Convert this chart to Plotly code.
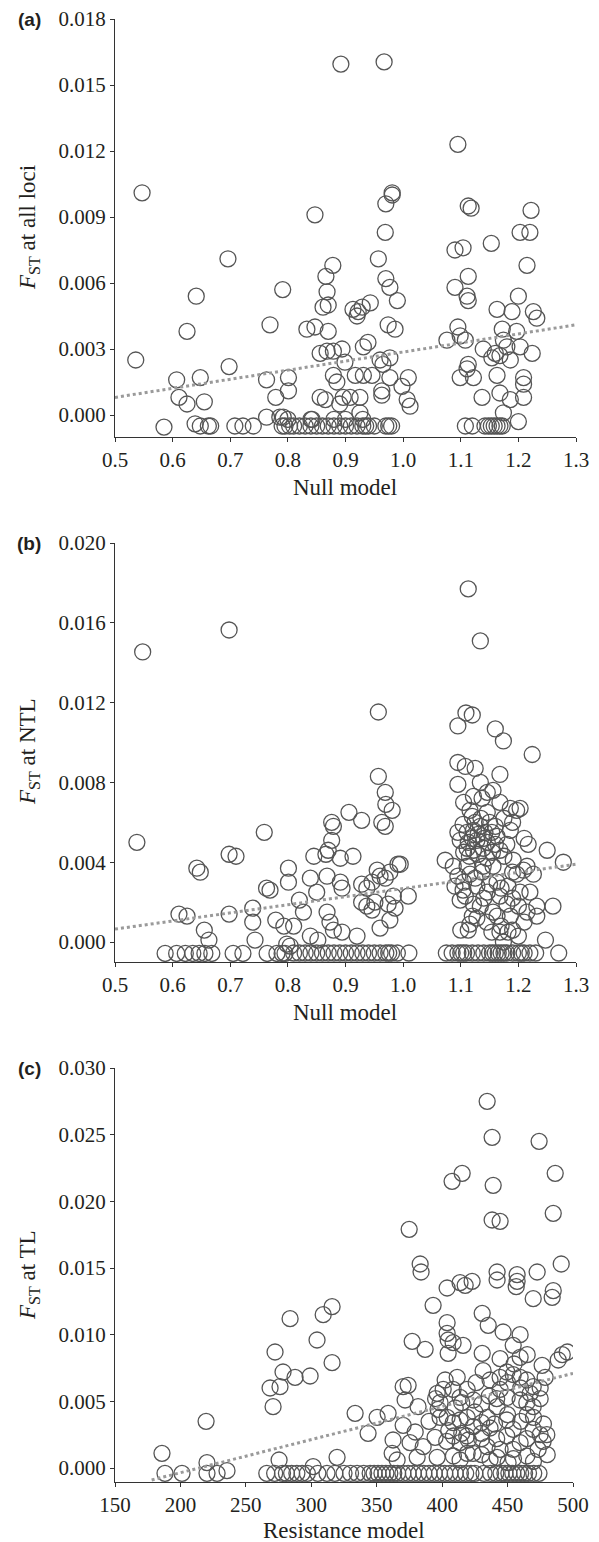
import plotly.graph_objects as go

# ---------------- Panel (a): FST at all loci vs Null model ----------------
xa = [0.547,0.536,0.585,0.607,0.611,0.625,0.625,0.641,0.648,0.655,0.639,0.648,0.662,0.666,
      0.696,0.698,0.708,0.722,0.740,0.769,0.791,0.763,0.779,0.801,0.801,0.763,0.786,0.792,
      0.790,0.795,0.803,0.892,0.967,1.095,0.981,0.981,0.970,0.847,0.969,1.113,1.118,1.222,
      1.203,1.220,1.153,1.104,1.090,0.878,0.866,0.868,0.861,0.870,0.833,0.847,0.870,0.856,
      0.868,0.879,0.894,0.899,0.879,0.885,0.856,0.865,0.896,0.908,0.890,0.925,0.925,0.913,
      0.920,0.929,0.943,0.922,0.931,0.939,0.917,0.931,0.946,0.960,0.965,0.977,0.977,0.963,
      0.963,0.957,0.970,0.977,0.990,0.974,0.986,1.009,0.998,1.007,1.012,0.842,1.113,1.090,
      1.111,1.113,1.076,1.095,1.099,1.108,1.113,1.111,1.099,1.122,1.108,1.120,1.215,1.200,
      1.163,1.189,1.226,1.232,1.172,1.197,1.139,1.174,1.180,1.160,1.168,1.154,1.186,1.203,
      1.224,1.163,1.209,1.209,1.137,1.168,1.186,1.209,1.174,1.200,
      1.142,1.148,1.153,1.158,1.163,1.168,1.172,
      0.810,0.820,0.830,0.840,0.850,0.860,0.870,0.880,0.890,0.900,0.910,0.920,0.930,0.935,
      0.940,0.950,0.970,0.975,0.980,
      0.800,0.840,0.880,0.900,0.930]
ya = [0.0101,0.0025,-0.00055,0.0016,0.0008,0.0005,0.0038,0.0054,0.0017,0.0006,-0.0004,-0.0005,-0.0005,-0.0005,
      0.0071,0.0022,-0.0005,-0.0005,-0.0005,0.0041,0.0057,0.0016,0.0008,0.0017,0.0011,-0.0001,-0.0001,-0.0001,
      -0.0005,-0.0005,-0.0005,0.01595,0.01605,0.0123,0.0101,0.0100,0.0096,0.0091,0.0083,0.0095,0.0094,0.0093,
      0.0083,0.0083,0.0078,0.0076,0.0075,0.0068,0.0063,0.0056,0.0049,0.0050,0.0039,0.0040,0.0038,0.0028,
      0.0029,0.0029,0.0030,0.0024,0.0018,0.0015,0.0008,0.0007,0.0008,0.0008,0.0005,0.0008,0.0001,0.0048,
      0.0045,0.0049,0.0051,0.0047,0.0031,0.0033,0.0018,0.0018,0.0018,0.0025,0.0023,0.0026,0.0017,0.0011,
      0.0009,0.0071,0.0062,0.0058,0.0052,0.0041,0.0039,0.0017,0.0013,0.0007,0.0004,-0.0002,0.0063,0.0058,
      0.0054,0.0052,0.0034,0.0040,0.0036,0.0034,0.0023,0.0021,0.0017,0.0017,-0.0005,-0.0005,0.0068,0.0054,
      0.0048,0.0047,0.0047,0.0044,0.0039,0.0038,0.0030,0.0034,0.0031,0.0028,0.0027,0.0026,0.0025,0.0031,
      0.0028,0.0018,0.0017,0.0014,0.0008,0.0010,0.0007,0.0008,0.0001,-0.0003,
      -0.0005,-0.0005,-0.0005,-0.0005,-0.0005,-0.0005,-0.0005,
      -0.0005,-0.0005,-0.0005,-0.0005,-0.0005,-0.0005,-0.0005,-0.0005,-0.0005,-0.0005,-0.0005,-0.0005,-0.0005,-0.0005,
      -0.0005,-0.0005,-0.0005,-0.0005,-0.0005,
      -0.0002,-0.0002,-0.0002,-0.0002,-0.0002]
trend_xa = [0.5, 1.3]
trend_ya = [0.0008, 0.0041]

# ---------------- Panel (b): FST at NTL vs Null model ----------------
xb = [0.548,0.698,1.113,1.134,0.957,1.109,1.120,1.095,1.160,1.174,1.224,
      0.538,0.759,0.698,0.710,0.642,0.648,0.763,0.769,0.801,0.801,0.611,0.625,0.698,0.739,
      0.739,0.743,0.779,0.793,0.655,0.663,0.798,0.804,
      0.587,0.607,0.622,0.635,0.646,0.656,0.668,0.705,0.722,0.764,0.781,0.790,0.795,
      0.957,0.969,0.970,0.981,0.963,0.969,0.906,0.928,0.876,0.879,0.876,0.870,0.866,0.891,
      0.913,0.839,0.868,0.891,0.894,0.827,0.868,0.873,0.879,0.839,0.852,0.894,0.920,0.928,
      0.937,0.946,0.955,0.960,0.969,0.977,0.991,0.995,0.928,0.937,0.946,0.951,0.974,0.983,
      0.986,1.009,0.960,0.977,0.845,0.850,0.820,0.810,
      0.81,0.82,0.83,0.84,0.85,0.86,0.87,0.88,0.89,0.90,0.91,0.92,0.93,0.94,0.95,0.96,0.97,
      0.975,0.98,0.99,1.01,
      1.095,1.108,1.125,1.168,1.095,1.134,1.146,1.156,1.122,1.137,1.168,1.186,1.197,1.203,
      1.116,1.146,1.104,1.186,1.095,1.111,1.122,1.134,1.142,1.154,1.163,1.099,1.113,1.128,
      1.146,1.160,1.111,1.122,1.139,1.168,1.180,1.217,1.250,1.073,1.087,1.111,1.139,1.156,
      1.191,1.215,1.278,1.095,1.116,1.137,1.163,1.197,1.209,1.226,1.090,1.104,1.108,1.128,
      1.146,1.168,1.182,1.203,1.220,1.099,1.122,1.134,1.156,1.180,1.200,1.232,1.260,1.116,
      1.113,1.128,1.163,1.186,1.215,1.232,1.154,1.168,1.182,1.200,1.247,1.174,
      1.125,1.135,1.150,1.130,1.120,1.140,
      1.105,1.115,1.130,1.145,1.155,1.175,1.190,1.105,1.125,1.150,1.170,1.190,1.140,1.120,
      1.145,1.170,1.190,1.210,1.100,1.175,1.160,1.190,1.210,1.105,1.120,
      1.075,1.085,1.095,1.100,1.105,1.110,1.120,1.130,1.140,1.150,1.155,1.160,1.165,1.170,
      1.175,1.180,1.190,1.200,1.205,1.210,1.220,1.230,1.270]
yb = [0.01454,0.01564,0.0177,0.01509,0.01153,0.01148,0.01138,0.01083,0.01068,0.01008,0.0094,
      0.0050,0.0055,0.0044,0.0043,0.0037,0.0035,0.0027,0.0026,0.0037,0.0030,0.0014,0.0013,0.0014,0.0017,
      0.0010,0.0001,0.0011,0.0008,0.0006,0.0001,-0.0001,-0.0002,
      -0.00057,-0.00057,-0.00057,-0.00057,-0.00057,-0.00057,-0.00057,-0.00057,-0.00057,-0.00057,-0.00057,-0.00057,-0.00057,
      0.0083,0.0075,0.0069,0.0066,0.0060,0.0058,0.0065,0.0061,0.0060,0.0058,0.0051,0.0046,0.0044,0.0042,
      0.0043,0.0032,0.0033,0.0030,0.0027,0.0015,0.0015,0.0010,0.0006,0.0003,0.0001,0.0005,0.0003,0.0029,
      0.0027,0.0030,0.0036,0.0033,0.0032,0.0035,0.0039,0.0039,0.0020,0.0018,0.0016,0.0020,0.0019,0.0023,
      0.0017,0.0023,0.0007,0.0011,0.0043,0.0025,0.0021,0.0008,
      -0.00055,-0.00055,-0.00055,-0.00055,-0.00055,-0.00055,-0.00055,-0.00055,-0.00055,-0.00055,-0.00055,-0.00055,-0.00055,-0.00055,-0.00055,-0.00055,-0.00055,
      -0.00055,-0.00055,-0.00055,-0.00055,
      0.0090,0.0088,0.0087,0.0084,0.0079,0.0080,0.0075,0.0076,0.0073,0.0072,0.0070,0.0067,0.0066,0.0067,
      0.0066,0.0065,0.0059,0.0056,0.0055,0.0055,0.0056,0.0058,0.0055,0.0055,0.0053,0.0051,0.0050,0.0051,
      0.0050,0.0049,0.0047,0.0046,0.0047,0.0046,0.0049,0.0049,0.0046,0.0041,0.0038,0.0038,0.0038,0.0038,
      0.0041,0.0038,0.0040,0.0033,0.0034,0.0035,0.0030,0.0034,0.0036,0.0034,0.0028,0.0026,0.0023,0.0028,
      0.0025,0.0023,0.0028,0.0025,0.0025,0.0021,0.0019,0.0018,0.0015,0.0019,0.0018,0.0018,0.0018,0.0009,
      0.0006,0.0012,0.0013,0.0013,0.0015,0.0013,0.0005,0.0005,0.0005,0.0003,0.0001,0.0000,
      0.0060,0.0062,0.0060,0.0054,0.0052,0.0052,
      0.0045,0.0043,0.0044,0.0042,0.0045,0.0043,0.0035,0.0030,0.0032,0.0029,0.0027,0.0022,0.0022,0.0013,
      0.0010,0.0008,0.0006,0.0010,0.0006,0.0062,0.0058,0.0060,0.0052,0.0070,0.0063,
      -0.00055,-0.00055,-0.00055,-0.00055,-0.00055,-0.00055,-0.00055,-0.00055,-0.00055,-0.00055,-0.00055,-0.00055,-0.00055,-0.00055,
      -0.00055,-0.00055,-0.00055,-0.00055,-0.00055,-0.00055,-0.00055,-0.00055,-0.00055]
trend_xb = [0.5, 1.3]
trend_yb = [0.00065, 0.0039]

# ---------------- Panel (c): FST at TL vs Resistance model ----------------
xc = [434.4,438.2,474.1,415.3,407.6,439.0,486.4,438.2,444.3,484.9,374.8,383.2,383.9,442.0,
      442.0,457.3,457.3,456.6,472.6,491.0,403.8,413.7,422.9,417.6,484.9,469.6,484.1,
      283.8,272.3,278.4,287.6,268.5,276.1,270.8,219.6,185.9,188.2,201.2,220.3,220.3,228.0,
      235.6,275.4,315.9,309.1,304.4,315.9,299.1,393.1,377.1,387.0,403.8,403.8,404.6,408.4,
      416.0,404.6,430.6,435.2,446.6,459.6,430.6,444.3,454.3,459.6,476.4,488.7,495.6,491.8,
      431.3,444.3,454.3,459.6,469.6,474.9,370.2,374.0,371.7,402.3,411.5,419.1,396.2,400.8,
      408.4,333.5,350.3,358.7,381.6,343.4,370.2,379.4,394.6,396.9,403.8,408.4,419.1,423.7,
      434.4,442.0,444.3,449.7,459.6,467.3,469.6,454.3,459.6,454.3,469.6,477.2,473.4,480.3,
      362.5,375.5,385.5,361.8,365.6,380.9,396.2,413.7,419.1,423.7,434.4,442.0,444.3,450.4,
      319.7,301.4,
      410,415,425,430,440,450,460,465,415,405,420,390,395,460,455,465,450,436,426,
      436.6,449.4,464.7,478.7,398.4,413.7,423.9,430.2,441.7,464.7,474.9,
      413.7,430.2,436.6,449.4,469.8,477.4,398.4,
      403.5,408.6,418.8,430.2,441.7,449.4,464.7,474.9,480.0,
      408.6,413.7,430.2,436.6,454.5,464.7,469.8,
      266,272,278,281,285,289,293,297,305,312,318,325,330,335,340,345,348,351,354,357,360,
      363,366,370,374,378,382,386,390,394,398,402,406,410,414,418,422,425,
      432,437,441,445,448,451,454,457,460,463,466,470,474]
yc = [0.0275,0.0248,0.0245,0.0221,0.0215,0.0212,0.0221,0.0186,0.0185,0.0191,0.0179,0.0153,0.0147,0.0147,
      0.0141,0.0145,0.0140,0.0136,0.0147,0.0153,0.0135,0.0139,0.0140,0.0137,0.0133,0.0127,0.0128,
      0.0112,0.0087,0.0072,0.0068,0.0060,0.0061,0.0046,0.0035,0.0011,-0.0004,-0.0004,0.0004,-0.0004,-0.0004,
      -0.0002,0.0006,0.0121,0.0115,0.0096,0.0079,0.0069,0.0122,0.0095,0.0089,0.0109,0.0101,0.0096,0.0094,
      0.0092,0.0086,0.0116,0.0107,0.0102,0.0100,0.0086,0.0082,0.0092,0.0083,0.0077,0.0081,0.0087,0.0085,
      0.0073,0.0068,0.0070,0.0068,0.0061,0.0060,0.0061,0.0062,0.0051,0.0066,0.0068,0.0059,0.0056,0.0059,
      0.0059,0.0041,0.0038,0.0041,0.0046,0.0026,0.0032,0.0027,0.0023,0.0044,0.0038,0.0034,0.0038,0.0031,
      0.0038,0.0046,0.0059,0.0053,0.0051,0.0056,0.0046,0.0029,0.0019,0.0014,0.0029,0.0020,0.0014,0.0010,
      0.0021,0.0019,0.0016,0.0011,0.0006,0.0008,0.0008,0.0019,0.0011,0.0011,0.0016,0.0008,0.0014,0.0004,
      0.0008,0.0001,
      0.0045,0.0049,0.0042,0.0026,0.0033,0.0040,0.0035,0.0040,0.0026,0.0028,0.0021,0.0035,0.0052,0.0060,0.0078,0.0085,0.0064,0.0054,0.0064,
      0.0066,0.0072,0.0066,0.0068,0.0049,0.0053,0.0051,0.0048,0.0052,0.0049,0.0052,
      0.0036,0.0034,0.0030,0.0036,0.0038,0.0033,0.0038,
      0.0020,0.0024,0.0024,0.0022,0.0022,0.0024,0.0022,0.0025,0.0025,
      0.0009,0.0006,0.0010,0.0006,0.0007,0.0009,0.0005,
      -0.0004,-0.0004,-0.0004,-0.0004,-0.0004,-0.0004,-0.0004,-0.0004,-0.0004,-0.0004,-0.0004,-0.0004,-0.0004,-0.0004,-0.0004,-0.0004,-0.0004,-0.0004,-0.0004,-0.0004,-0.0004,
      -0.0004,-0.0004,-0.0004,-0.0004,-0.0004,-0.0004,-0.0004,-0.0004,-0.0004,-0.0004,-0.0004,-0.0004,-0.0004,-0.0004,-0.0004,-0.0004,-0.0004,
      -0.0004,-0.0004,-0.0004,-0.0004,-0.0004,-0.0004,-0.0004,-0.0004,-0.0004,-0.0004,-0.0004,-0.0004,-0.0004]
trend_xc = [178, 500]
trend_yc = [-0.0009, 0.0071]

# ---------------- Axis settings ----------------
xticks_ab = [0.5, 0.6, 0.7, 0.8, 0.9, 1.0, 1.1, 1.2, 1.3]
yticks_a = [0.000, 0.003, 0.006, 0.009, 0.012, 0.015, 0.018]
yticks_b = [0.000, 0.004, 0.008, 0.012, 0.016, 0.020]
xticks_c = [150, 200, 250, 300, 350, 400, 450, 500]
yticks_c = [0.000, 0.005, 0.010, 0.015, 0.020, 0.025, 0.030]

W, H = 599, 1542
SERIF = "Liberation Serif, Times New Roman, serif"
TXT = "#231f20"
MK = "#555555"

fig = go.Figure()

panels = [
    (xa, ya, trend_xa, trend_ya, "x", "y"),
    (xb, yb, trend_xb, trend_yb, "x2", "y2"),
    (xc, yc, trend_xc, trend_yc, "x3", "y3"),
]
for px, py, tx, ty, xr, yr in panels:
    fig.add_trace(go.Scatter(x=px, y=py, mode="markers", xaxis=xr, yaxis=yr,
                             marker=dict(symbol="circle-open", size=16, color=MK,
                                         line=dict(width=1.3, color=MK)),
                             showlegend=False, hoverinfo="skip"))
    fig.add_trace(go.Scatter(x=tx, y=ty, mode="lines", xaxis=xr, yaxis=yr,
                             line=dict(color="#9a9a9a", width=3, dash="dot"),
                             showlegend=False, hoverinfo="skip"))

def xax(dom, rng, ticks, fmt, anchor):
    return dict(domain=dom, range=rng, tickvals=ticks, tickformat=fmt, anchor=anchor,
                showline=True, linecolor="#333333", linewidth=1, ticks="outside",
                ticklen=4, tickcolor="#333333", showgrid=False, zeroline=False,
                tickfont=dict(family=SERIF, size=21, color=TXT), fixedrange=True)

def yax(dom, rng, ticks, anchor):
    return dict(domain=dom, range=rng, tickvals=ticks, tickformat=".3f", anchor=anchor,
                showline=True, linecolor="#333333", linewidth=1, ticks="outside",
                ticklen=4, tickcolor="#333333", showgrid=False, zeroline=False,
                tickfont=dict(family=SERIF, size=21, color=TXT), fixedrange=True)

xd_ab = [115 / W, 576 / W]
xd_c = [115 / W, 573 / W]
yd_a = [1 - 437 / H, 1 - 19 / H]
yd_b = [1 - 962 / H, 1 - 543 / H]
yd_c = [1 - 1482 / H, 1 - 1068 / H]

fig.update_layout(
    width=W, height=H, margin=dict(l=0, r=0, t=0, b=0, autoexpand=False),
    paper_bgcolor="white", plot_bgcolor="white",
    xaxis=xax(xd_ab, [0.5, 1.3], xticks_ab, ".1f", "y"),
    yaxis=yax(yd_a, [-0.001, 0.018], yticks_a, "x"),
    xaxis2=xax(xd_ab, [0.5, 1.3], xticks_ab, ".1f", "y2"),
    yaxis2=yax(yd_b, [-0.001, 0.020], yticks_b, "x2"),
    xaxis3=xax(xd_c, [150, 500], xticks_c, "d", "y3"),
    yaxis3=yax(yd_c, [-0.00105, 0.030], yticks_c, "x3"),
)

ann = []
# panel labels
for lab, ypx in [("(a)", 20), ("(b)", 543), ("(c)", 1068)]:
    ann.append(dict(text="<b>%s</b>" % lab, x=29 / W, y=1 - ypx / H, xref="paper", yref="paper",
                    showarrow=False, xanchor="center", yanchor="middle",
                    font=dict(family="Liberation Sans, Arial, sans-serif", size=19, color=TXT)))
# x-axis titles
for lab, xc_px, ypx in [("Null model", 345, 487), ("Null model", 345, 1012), ("Resistance model", 344, 1530)]:
    ann.append(dict(text=lab, x=xc_px / W, y=1 - ypx / H, xref="paper", yref="paper",
                    showarrow=False, xanchor="center", yanchor="middle",
                    font=dict(family=SERIF, size=23, color=TXT)))
# y-axis titles
for lab, ypx in [("<i>F</i><sub>ST</sub> at all loci", 228), ("<i>F</i><sub>ST</sub> at NTL", 752),
                 ("<i>F</i><sub>ST</sub> at TL", 1275)]:
    ann.append(dict(text=lab, x=29 / W, y=1 - ypx / H, xref="paper", yref="paper",
                    showarrow=False, xanchor="center", yanchor="middle", textangle=-90,
                    font=dict(family=SERIF, size=23, color=TXT)))
fig.update_layout(annotations=ann)

fig.write_html("out.html",
               post_script="document.body.style.margin='0';document.body.style.padding='0';"
                           "document.documentElement.style.overflow='hidden';")
